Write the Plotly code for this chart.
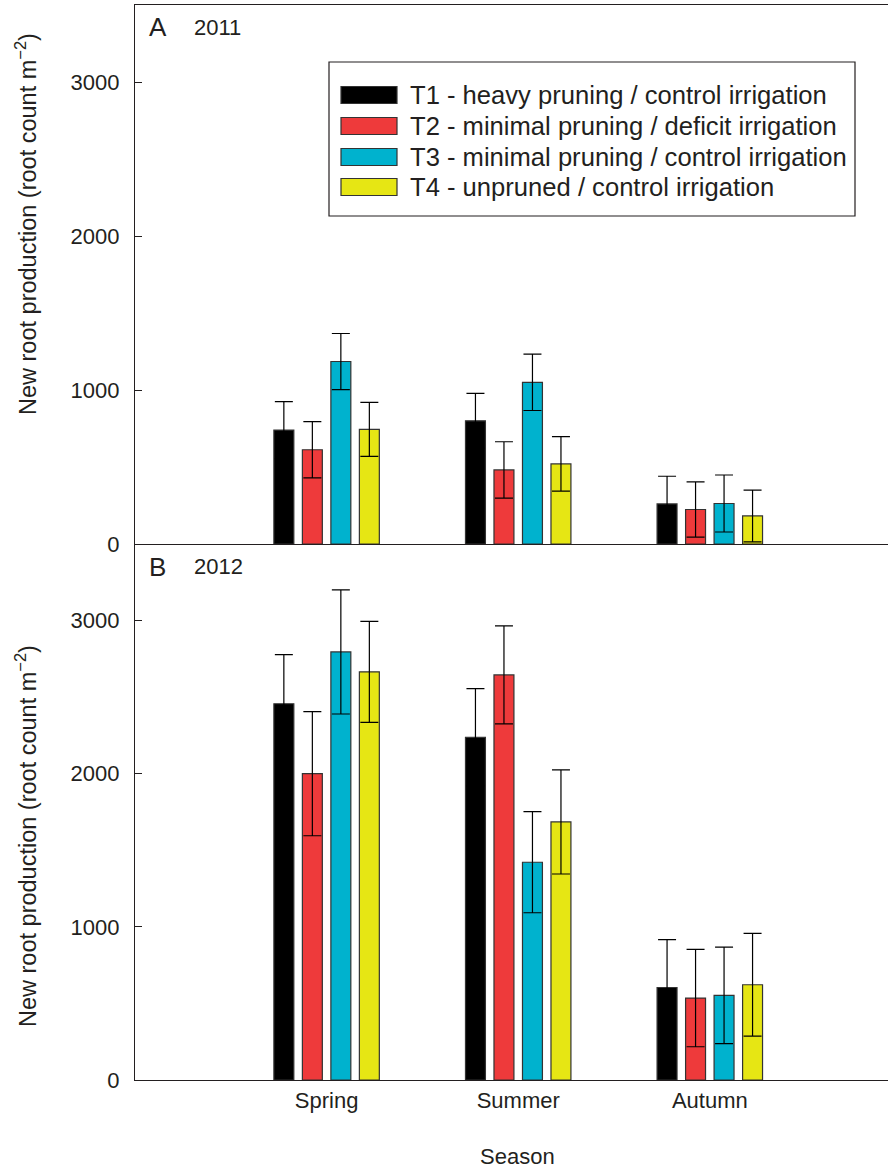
import plotly.graph_objects as go

# ---- data -----------------------------------------------------------------
seasons = ["Spring", "Summer", "Autumn"]
treatments = [
    "T1 - heavy pruning / control irrigation",
    "T2 - minimal pruning / deficit irrigation",
    "T3 - minimal pruning / control irrigation",
    "T4 - unpruned / control irrigation",
]
colors = ["#000000", "#EE3A3B", "#00B2CE", "#E6E614"]

# 2011 (panel A): mean new root production and standard error
mean_2011 = [
    [740, 800, 260],
    [612, 481, 224],
    [1185, 1050, 263],
    [744, 520, 182],
]
err_2011 = [
    [185, 178, 180],
    [183, 183, 180],
    [182, 183, 185],
    [175, 177, 168],
]

# 2012 (panel B)
mean_2012 = [
    [2457, 2238, 604],
    [2000, 2645, 535],
    [2795, 1422, 553],
    [2665, 1685, 622],
]
err_2012 = [
    [320, 317, 313],
    [405, 320, 318],
    [405, 330, 315],
    [330, 340, 335],
]

y_ticks = [0, 1000, 2000, 3000]
panels = [("A", "2011"), ("B", "2012")]

# ---- figure geometry (pixels) -----------------------------------------------
W, H = 888, 1168
ML, MR, MT, MB = 135, 0, 5, 88
PW, PH = W - ML - MR, H - MT - MB
MID = 544  # pixel row shared by the two panels


def px_x(p):
    return (p - ML) / PW


def px_y(p):
    return (H - MB - p) / PH


FONT = "Liberation Sans, Arial, Helvetica, sans-serif"
INK = "#231F20"
LINE = "#333333"
WHISKER = "#000000"

fig = go.Figure()

for i, name in enumerate(treatments):
    for k, (means, errs) in enumerate([(mean_2011, err_2011), (mean_2012, err_2012)]):
        fig.add_trace(
            go.Bar(
                x=seasons,
                y=means[i],
                name=name,
                xaxis="x" if k == 0 else "x2",
                yaxis="y" if k == 0 else "y2",
                offsetgroup=str(i),
                marker=dict(color=colors[i], line=dict(color=LINE, width=1.2)),
                error_y=dict(
                    type="data",
                    array=errs[i],
                    symmetric=True,
                    color=WHISKER,
                    thickness=1.2,
                    width=9,
                ),
                showlegend=False,
            )
        )

split = px_y(MID)
axis_common = dict(
    showline=True,
    linecolor=INK,
    linewidth=1.2,
    showgrid=False,
    zeroline=False,
)

fig.update_layout(
    width=W,
    height=H,
    margin=dict(l=ML, r=MR, t=MT, b=MB),
    paper_bgcolor="white",
    plot_bgcolor="white",
    barmode="group",
    bargap=0.405,
    bargroupgap=0.3,
    font=dict(family=FONT, color=INK, size=22),
    xaxis=dict(
        **axis_common,
        domain=[0, 1],
        anchor="y",
        range=[-1.0, 2.93],
        mirror=True,
        showticklabels=False,
        ticks="",
        categoryorder="array",
        categoryarray=seasons,
    ),
    yaxis=dict(
        **axis_common,
        domain=[split, 1],
        anchor="x",
        range=[0, 3500],
        tickvals=y_ticks,
        ticks="inside",
        ticklen=7,
        tickcolor=INK,
        ticklabelstandoff=10,
        tickfont=dict(size=22, color=INK),
    ),
    xaxis2=dict(
        **axis_common,
        domain=[0, 1],
        anchor="y2",
        range=[-1.0, 2.93],
        ticks="",
        tickfont=dict(size=22, color=INK),
        categoryorder="array",
        categoryarray=seasons,
    ),
    yaxis2=dict(
        **axis_common,
        domain=[0, split],
        anchor="x2",
        range=[0, 3500],
        tickvals=y_ticks,
        ticks="inside",
        ticklen=7,
        tickcolor=INK,
        ticklabelstandoff=10,
        tickfont=dict(size=22, color=INK),
    ),
)

annotations = []
shapes = []

# panel letters and years
for (letter, year), yc in zip(panels, [27, 567]):
    annotations.append(dict(
        xref="paper", yref="paper", x=px_x(147), y=px_y(yc),
        text=letter, showarrow=False, xanchor="left", yanchor="middle",
        font=dict(size=26, color=INK),
    ))
    annotations.append(dict(
        xref="paper", yref="paper", x=px_x(192), y=px_y(yc),
        text=year, showarrow=False, xanchor="left", yanchor="middle",
        font=dict(size=22, color=INK),
    ))

# y-axis titles, one per panel
for yc in [224, 836]:
    annotations.append(dict(
        xref="paper", yref="paper", x=px_x(26), y=px_y(yc),
        text="New root production (root count m<sup>\u22122</sup>)",
        showarrow=False, textangle=-90, xanchor="center", yanchor="middle",
        font=dict(size=23.5, color=INK),
    ))

# x-axis title
annotations.append(dict(
    xref="paper", yref="paper", x=px_x(517), y=px_y(1156),
    text="Season", showarrow=False, xanchor="center", yanchor="middle",
    font=dict(size=22, color=INK),
))

# legend box with treatment swatches
shapes.append(dict(
    type="rect", xref="paper", yref="paper",
    x0=px_x(329), x1=px_x(855), y0=px_y(216), y1=px_y(62),
    line=dict(color=INK, width=1.2), fillcolor="white", layer="above",
))
for name, col, yc in zip(treatments, colors, [95, 126, 157, 187]):
    shapes.append(dict(
        type="rect", xref="paper", yref="paper",
        x0=px_x(341), x1=px_x(397), y0=px_y(yc + 8.5), y1=px_y(yc - 8.5),
        line=dict(color=LINE, width=1.2), fillcolor=col, layer="above",
    ))
    annotations.append(dict(
        xref="paper", yref="paper", x=px_x(408), y=px_y(yc),
        text=name, showarrow=False, xanchor="left", yanchor="middle",
        font=dict(size=25.6, color=INK),
    ))

fig.update_layout(annotations=annotations, shapes=shapes)

fig.write_html("out.html")
